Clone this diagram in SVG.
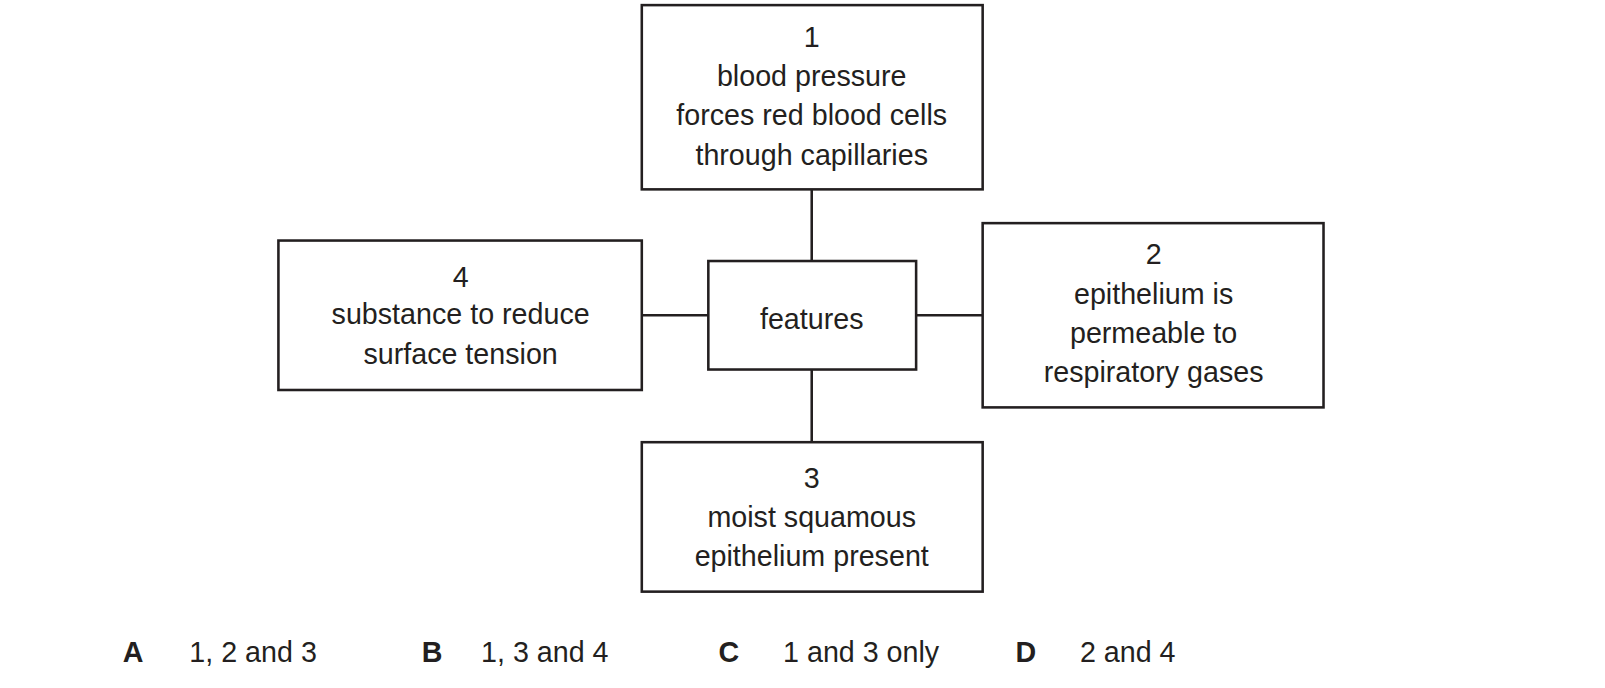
<svg xmlns="http://www.w3.org/2000/svg" width="1605" height="688" viewBox="0 0 1605 688">
<style>
rect{fill:#fff;stroke:#231f20;stroke-width:2.5}
line{stroke:#231f20;stroke-width:2.5}
text{font-family:"Liberation Sans",Arial,sans-serif;font-size:28px;fill:#231f20}
.c{text-anchor:middle}
.b{font-weight:bold}
</style>
<rect width="1605" height="688" style="stroke:none"/>
<g transform="scale(1.0236)">
<g id="connectors">
<line x1="793" y1="185" x2="793" y2="255"/>
<line x1="793" y1="361" x2="793" y2="432"/>
<line x1="627" y1="308" x2="692" y2="308"/>
<line x1="895" y1="308" x2="960" y2="308"/>
</g>
<g id="n1"><rect x="627" y="5" width="333" height="180"/>
<text class="c" x="793" y="46">1</text><text class="c" x="793" y="84">blood pressure</text><text class="c" x="793" y="122">forces red blood cells</text><text class="c" x="793" y="161">through capillaries</text></g>
<g id="features"><rect x="692" y="255" width="203" height="106"/>
<text class="c" x="793" y="321">features</text></g>
<g id="n4"><rect x="272" y="235" width="355" height="146"/>
<text class="c" x="450" y="280">4</text><text class="c" x="450" y="317">substance to reduce</text><text class="c" x="450" y="356">surface tension</text></g>
<g id="n2"><rect x="960" y="218" width="333" height="180"/>
<text class="c" x="1127" y="258">2</text><text class="c" x="1127" y="297">epithelium is</text><text class="c" x="1127" y="335">permeable to</text><text class="c" x="1127" y="373">respiratory gases</text></g>
<g id="n3"><rect x="627" y="432" width="333" height="146"/>
<text class="c" x="793" y="477">3</text><text class="c" x="793" y="515">moist squamous</text><text class="c" x="793" y="553">epithelium present</text></g>
<g id="answers">
<text class="b" x="120" y="647">A</text><text x="185" y="647">1, 2 and 3</text>
<text class="b" x="412" y="647">B</text><text x="470" y="647">1, 3 and 4</text>
<text class="b" x="702" y="647">C</text><text x="765" y="647">1 and 3 only</text>
<text class="b" x="992" y="647">D</text><text x="1055" y="647">2 and 4</text>
</g>
</g>
</svg>
